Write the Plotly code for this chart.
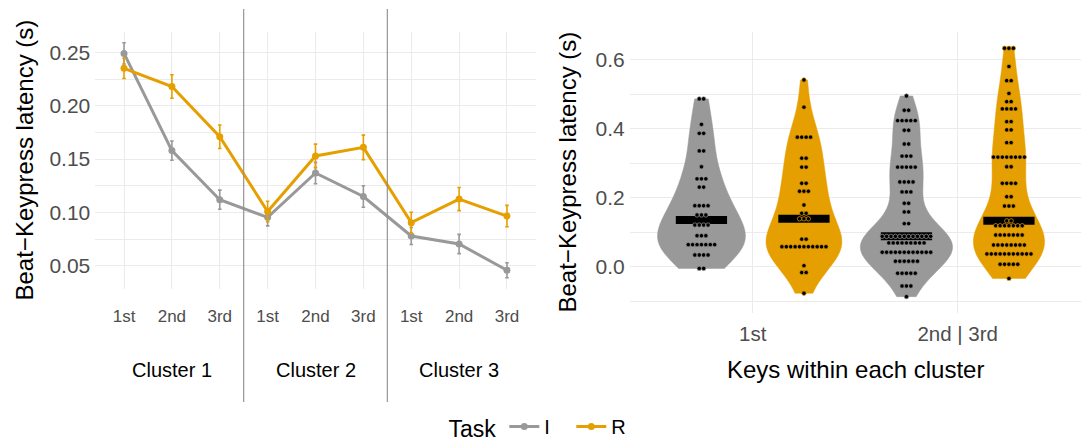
import numpy as np
import plotly.graph_objects as go

# ---------------------------------------------------------------- data
key_labels = ["1st", "2nd", "3rd"]
cluster_labels = ["Cluster 1", "Cluster 2", "Cluster 3"]
task_names = ["I", "R"]

# Mean beat-keypress latency (s) and its standard error,
# ordered Cluster 1 (1st, 2nd, 3rd), Cluster 2 (...), Cluster 3 (...)
mean_I = [0.249, 0.158, 0.112, 0.0955, 0.137, 0.115, 0.078, 0.0705, 0.046]
se_I = [0.010, 0.009, 0.009, 0.008, 0.010, 0.010, 0.008, 0.009, 0.007]
mean_R = [0.235, 0.218, 0.171, 0.101, 0.153, 0.161, 0.0905, 0.1126, 0.0967]
se_R = [0.0095, 0.011, 0.011, 0.0095, 0.011, 0.0115, 0.0098, 0.0108, 0.010]

# Per-participant latencies for the violins, stored as dot-plot rows:
# latency level (s) and the number of observations at that level
violin_groups = ["1st", "2nd | 3rd"]

I_first_levels = [0.487, 0.413, 0.387, 0.336, 0.290, 0.255, 0.231, 0.177,
                  0.150, 0.121, 0.090, 0.064, 0.034, -0.005]
I_first_counts = [2, 1, 2, 2, 1, 3, 2, 4, 3, 4, 3, 7, 4, 2]

R_first_levels = [0.542, 0.463, 0.376, 0.315, 0.289, 0.242, 0.219, 0.179,
                  0.155, 0.139, 0.080, 0.058, 0.003, -0.017, -0.077]
R_first_counts = [1, 1, 4, 2, 2, 2, 3, 1, 2, 3, 2, 11, 1, 2, 1]

I_later_levels = [0.4955, 0.454, 0.424, 0.396, 0.356, 0.321, 0.289, 0.246,
                  0.217, 0.184, 0.159, 0.125, 0.088, 0.069, 0.042, 0.016,
                  -0.019, -0.056, -0.087]
I_later_counts = [1, 2, 5, 2, 2, 3, 5, 4, 3, 2, 2, 2, 12, 9, 12, 6, 5, 3, 1]

R_later_levels = [0.634, 0.581, 0.540, 0.503, 0.479, 0.458, 0.421, 0.397,
                  0.360, 0.318, 0.290, 0.242, 0.203, 0.176, 0.133, 0.119,
                  0.092, 0.063, 0.037, 0.007, -0.034]
R_later_counts = [3, 1, 2, 1, 2, 4, 2, 2, 2, 8, 2, 4, 2, 3, 2, 7, 7, 8, 11, 5, 1]

# ---------------------------------------------------------------- style
W, H = 1085, 447
FONT = "Liberation Sans, Arial, Helvetica, sans-serif"
COLORS = {"I": "#999999", "R": "#E69F00"}
GRID = "#EBEBEB"
TICK_TXT = "#4D4D4D"


def px_x(p):
    return p / W


def px_y(p):
    return 1 - p / H


def nrd0(x):
    """Silverman bandwidth as used by R's density() default."""
    sd = np.std(x, ddof=1)
    q75, q25 = np.percentile(x, [75, 25])
    lo = min(sd, (q75 - q25) / 1.34)
    return 0.9 * lo * len(x) ** (-0.2)


def peak_density(x, bw):
    grid = np.linspace(x.min(), x.max(), 512)
    z = (grid[:, None] - x[None, :]) / bw
    dens = np.exp(-0.5 * z ** 2).sum(axis=1) / (len(x) * bw * np.sqrt(2 * np.pi))
    return dens.max()


fig = go.Figure()

# ---------------------------------------------------------------- left panel
xpos = np.arange(1, len(mean_I) + 1)
for task, means, ses in (("I", mean_I, se_I), ("R", mean_R, se_R)):
    fig.add_trace(go.Scatter(
        x=xpos, y=means, name=task, mode="lines+markers",
        line=dict(color=COLORS[task], width=3),
        marker=dict(color=COLORS[task], size=7),
        error_y=dict(type="data", array=ses, visible=True,
                     color=COLORS[task], thickness=1.6, width=1.8),
        xaxis="x", yaxis="y", showlegend=True,
    ))

# ---------------------------------------------------------------- right panel
violins = [
    ("I", 0, I_first_levels, I_first_counts),
    ("R", 0, R_first_levels, R_first_counts),
    ("I", 1, I_later_levels, I_later_counts),
    ("R", 1, R_later_levels, R_later_counts),
]
dodge = {"I": -0.25, "R": 0.25}
max_width = 0.45
dot_step = 0.0215
bar_half = 0.125

samples = [np.repeat(np.array(lv, float), cn) for _, _, lv, cn in violins]
bws = [nrd0(s) for s in samples]
peaks = [peak_density(s, b) for s, b in zip(samples, bws)]
top_peak = max(peaks)

for (task, gi, lv, cn), s, bw, pk in zip(violins, samples, bws, peaks):
    centre = gi + 1 + dodge[task]
    fig.add_trace(go.Violin(
        y=s, x0=centre, width=max_width * pk / top_peak,
        bandwidth=bw, spanmode="hard", scalemode="width",
        fillcolor=COLORS[task], line=dict(color=COLORS[task], width=0.5),
        opacity=1, points=False, box=dict(visible=False),
        meanline=dict(visible=False), hoverinfo="skip",
        xaxis="x2", yaxis="y2", showlegend=False,
    ))

for (task, gi, lv, cn), s in zip(violins, samples):
    centre = gi + 1 + dodge[task]
    med = float(np.median(s))
    fig.add_trace(go.Scatter(
        x=[centre - bar_half, centre + bar_half], y=[med, med], mode="lines",
        line=dict(color="black", width=8), hoverinfo="skip",
        xaxis="x2", yaxis="y2", showlegend=False,
    ))

for (task, gi, lv, cn), s in zip(violins, samples):
    centre = gi + 1 + dodge[task]
    xs, ys = [], []
    for level, count in zip(lv, cn):
        offs = (np.arange(count) - (count - 1) / 2) * dot_step
        xs.extend(centre + offs)
        ys.extend([level] * count)
    fig.add_trace(go.Scatter(
        x=xs, y=ys, mode="markers",
        marker=dict(color="black", size=4.4,
                    line=dict(color=COLORS[task], width=0.7)),
        hoverinfo="skip", xaxis="x2", yaxis="y2", showlegend=False,
    ))

# ---------------------------------------------------------------- decorations
shapes = []
for k in range(1, len(cluster_labels)):
    shapes.append(dict(type="line", xref="x", yref="paper",
                       x0=3 * k + 0.5, x1=3 * k + 0.5,
                       y0=px_y(402), y1=px_y(9),
                       line=dict(color="#8C8C8C", width=1.1)))

annotations = []
for k, lab in enumerate(cluster_labels):
    annotations.append(dict(text=lab, x=3 * k + 2, xref="x", y=px_y(370),
                            yref="paper", showarrow=False,
                            font=dict(family=FONT, size=20, color="black"),
                            xanchor="center", yanchor="middle"))

ytitle = "Beat\u2212Keypress latency (s)"
annotations.append(dict(text=ytitle, x=px_x(24), y=px_y(160.5), xref="paper",
                        yref="paper", textangle=-90, showarrow=False,
                        font=dict(family=FONT, size=24, color="black"),
                        xanchor="center", yanchor="middle"))
annotations.append(dict(text=ytitle, x=px_x(567), y=px_y(172.5), xref="paper",
                        yref="paper", textangle=-90, showarrow=False,
                        font=dict(family=FONT, size=24, color="black"),
                        xanchor="center", yanchor="middle"))
annotations.append(dict(text="Keys within each cluster", x=px_x(855),
                        y=px_y(369), xref="paper", yref="paper",
                        showarrow=False,
                        font=dict(family=FONT, size=24, color="black"),
                        xanchor="center", yanchor="middle"))

fig.update_layout(
    template="none",
    width=W, height=H,
    margin=dict(l=0, r=0, t=0, b=0),
    paper_bgcolor="white", plot_bgcolor="white",
    font=dict(family=FONT, color="black"),
    violinmode="overlay",
    shapes=shapes, annotations=annotations,
    xaxis=dict(domain=[px_x(95.3), px_x(535.7)], range=[0.4, 9.6],
               tickvals=list(xpos), ticktext=key_labels * len(cluster_labels),
               showgrid=True, gridcolor=GRID, gridwidth=1.3,
               zeroline=False, showline=False, ticks="",
               ticklabelstandoff=15, automargin=False,
               tickfont=dict(family=FONT, size=17, color=TICK_TXT)),
    yaxis=dict(domain=[px_y(289), px_y(31.7)], range=[0.0284, 0.2693],
               tick0=0, dtick=0.05, tickformat=".2f",
               showgrid=True, gridcolor=GRID, gridwidth=1.3,
               minor=dict(dtick=0.025, showgrid=True, gridcolor=GRID,
                          gridwidth=0.7),
               zeroline=False, showline=False, ticks="",
               ticklabelstandoff=4, automargin=False,
               tickfont=dict(family=FONT, size=21, color=TICK_TXT)),
    xaxis2=dict(domain=[px_x(629.7), px_x(1080.7)], range=[0.4, 2.6],
                tickvals=[1, 2], ticktext=violin_groups,
                showgrid=True, gridcolor=GRID, gridwidth=1.3,
                zeroline=False, showline=False, ticks="",
                ticklabelstandoff=6, automargin=False,
                tickfont=dict(family=FONT, size=20.5, color=TICK_TXT)),
    yaxis2=dict(domain=[px_y(313), px_y(31.7)], range=[-0.1344, 0.682],
                anchor="x2", tick0=0, dtick=0.2, tickformat=".1f",
                showgrid=True, gridcolor=GRID, gridwidth=1.3,
                minor=dict(dtick=0.1, showgrid=True, gridcolor=GRID,
                           gridwidth=0.7),
                zeroline=False, showline=False, ticks="",
                ticklabelstandoff=4, automargin=False,
                tickfont=dict(family=FONT, size=21, color=TICK_TXT)),
    legend=dict(orientation="h", x=0.5, xanchor="center",
                y=0, yanchor="bottom",
                title=dict(text="Task", font=dict(family=FONT, size=23,
                                                  color="black")),
                font=dict(family=FONT, size=20, color="black"),
                itemwidth=30, entrywidth=22, entrywidthmode="pixels",
                bgcolor="rgba(0,0,0,0)"),
)
fig.update_layout(xaxis2_anchor="y2")

fig.write_html("out.html")
